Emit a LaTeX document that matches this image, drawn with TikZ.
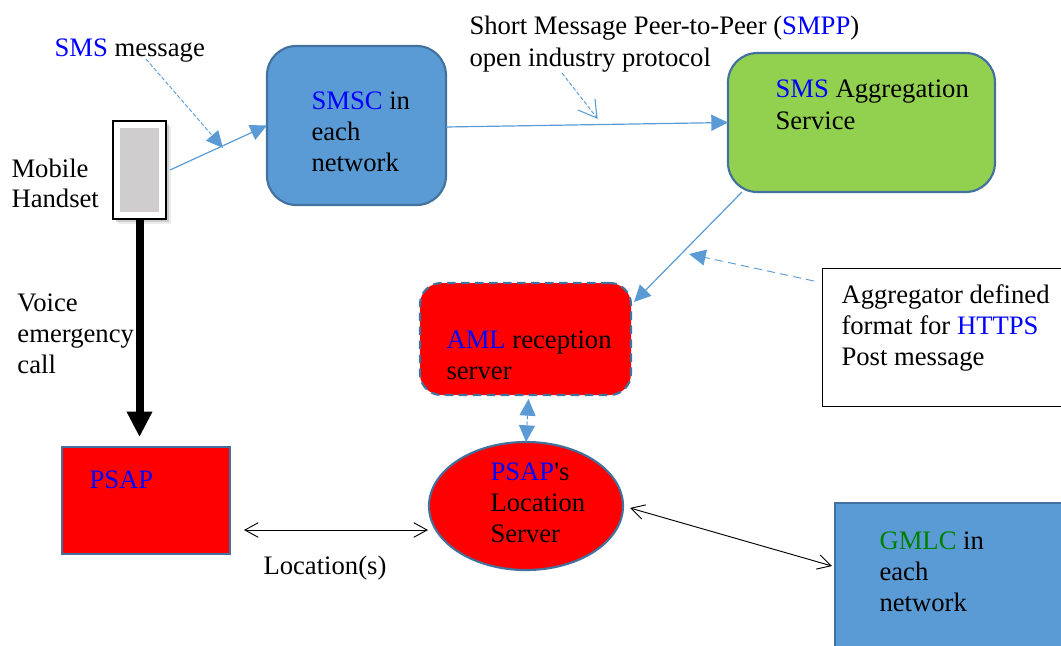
\documentclass[tikz,border=0pt]{standalone}
\usepackage{fontspec}
\setmainfont{Liberation Serif}
\usetikzlibrary{arrows.meta,shadows,calc,shapes.geometric}
\definecolor{boxblue}{HTML}{5B9BD5}
\definecolor{edgeblue}{HTML}{41719C}
\definecolor{boxgreen}{HTML}{92D050}
\definecolor{handgray}{HTML}{CFCDCD}
\definecolor{gmlcgreen}{HTML}{008000}
\newcommand{\bl}[1]{\textcolor{blue}{#1}}
\tikzset{
  px/.style={x=0.75pt,y=-0.75pt},
  label text/.style={font=\fontsize{20}{23.25}\selectfont,align=left,inner sep=0pt,outer sep=0pt,anchor=base west,text=black},
  sized/.style 2 args={minimum width=#1*0.75pt,minimum height=#2*0.75pt,inner sep=0pt,outer sep=0pt},
  blue box/.style={draw=edgeblue,line width=1.6pt,fill=boxblue},
  red fill/.style={draw=edgeblue,line width=1.6pt,fill=red},
  flow/.style={draw=boxblue,line width=0.9pt,-{Triangle[length=12.5pt,width=12pt,fill=boxblue]}},
  note flow/.style={draw=boxblue,line width=0.7pt,dashed,dash pattern=on 3pt off 1.5pt,-{Triangle[length=12.5pt,width=12pt,fill=boxblue]}},
  thin both/.style={draw=black,line width=0.7pt,{Straight Barb[length=10pt,width=11pt]}-{Straight Barb[length=10pt,width=11pt]}},
}
\begin{document}
\begin{tikzpicture}[px]
\useasboundingbox (0,0) rectangle (1061,646);
\clip (0,0) rectangle (1061,646);
% boxes
\node[sized={179}{159},blue box,rounded corners=22pt] (smsc) at (356.5,125.5) {};
\node[sized={267}{139},draw=edgeblue,line width=1.6pt,fill=boxgreen,rounded corners=22pt] (agg) at (861.5,122.5) {};
\node[sized={211}{112},red fill,dashed,dash pattern=on 6.5pt off 4pt,rounded corners=16pt] (aml) at (525.5,339) {};
\node[sized={168}{107},red fill] (psap) at (146,500.5) {};
\node[sized={194}{128},red fill,shape=ellipse] (loc) at (526,506) {};
\node[sized={240}{157},blue box] (gmlc) at (955,581.5) {};
\node[sized={260}{138},draw=black,line width=0.7pt,fill=white] (note) at (952,337) {};
% handset
\node[sized={53}{98},draw=black,line width=2pt,fill=white,drop shadow={opacity=0.15,shadow xshift=3.5pt,shadow yshift=-4pt},drop shadow={opacity=0.3,shadow xshift=2pt,shadow yshift=-2pt}] (hand) at (139.5,170) {};
\node[sized={39}{84},fill=handgray] (screen) at (139.5,170) {};
% connectors
\draw[draw=black,line width=6pt,-{Triangle[length=19pt,width=18pt,fill=black]}] (hand.south) -- ([shift={(-6.5,-10)}]psap.north);
\draw[flow] ([shift={(4,0)}]hand.east) -- (smsc.west);
\draw[flow] ([shift={(0,1.5)}]smsc.east) -- (agg.west);
\draw[flow] ([shift={(14,0)}]agg.south west) -- ([shift={(3,19)}]aml.north east);
\draw[note flow,{Triangle[length=12.5pt,width=12pt,fill=boxblue]}-{Triangle[length=12.5pt,width=12pt,fill=boxblue]}] ([shift={(3,4)}]aml.south) -- (loc.north);
\coordinate (c1) at (146,59);
\coordinate (c2) at (223,148);
\coordinate (c3) at (562,73);
\coordinate (c4) at (597,118);
\coordinate (c5) at (689,254);
\draw[note flow] (c1) -- (c2);
\draw[draw=boxblue,line width=0.7pt,dashed,dash pattern=on 3pt off 1.5pt] (c3) -- (c4);
\draw[draw=boxblue,line width=0.8pt] ($(c4)+(-19,-8)$) -- (c4) -- ($(c4)+(-2,-19)$);
\draw[note flow,dash pattern=on 6pt off 4pt] ([shift={(-8,13)}]note.north west) -- (c5);
\draw[thin both] ([shift={(14,29.5)}]psap.east) -- ([shift={(-1,24)}]loc.west);
\draw[thin both] ([shift={(7,2)}]loc.east) -- ([shift={(-3,63)}]gmlc.north west);
% texts
\node[label text] (t1) at (54.5,56) {\bl{SMS} message};
\node[label text] (t2) at (11.5,177) {Mobile};
\node[label text] (t2b) at (11.5,207) {Handset};
\node[label text] (t3) at (17.5,311) {Voice};
\node[label text] (t3b) at (17.5,342) {emergency};
\node[label text] (t3c) at (17.5,373) {call};
\node[label text] (t4) at (311.5,109) {\bl{SMSC} in};
\node[label text] (t4b) at (311.5,140) {each};
\node[label text] (t4c) at (311.5,171) {network};
\node[label text] (t5) at (469.5,35) {Short Message Peer-to-Peer (\bl{SMPP})};
\node[label text] (t5b) at (469.5,66) {open industry protocol};
\node[label text] (t6) at (775.5,97) {\bl{SMS} Aggregation};
\node[label text] (t6b) at (775.5,129) {Service};
\node[label text] (t7) at (446.5,348) {\bl{AML} reception};
\node[label text] (t7b) at (446.5,379) {server};
\node[label text] (t8) at (89.5,488) {\bl{PSAP}};
\node[label text] (t9) at (490.5,480) {\bl{PSAP}\textquotesingle s};
\node[label text] (t9b) at (490.5,511) {Location};
\node[label text] (t9c) at (490.5,542) {Server};
\node[label text] (t10) at (263.5,574) {Location(s)};
\node[label text] (t11) at (879.5,549) {\textcolor{gmlcgreen}{GMLC} in};
\node[label text] (t11b) at (879.5,580) {each};
\node[label text] (t11c) at (879.5,611) {network};
\node[label text] (t12) at (841.5,303) {Aggregator defined};
\node[label text] (t12b) at (841.5,334) {format for \bl{HTTPS}};
\node[label text] (t12c) at (841.5,365) {Post message};
\end{tikzpicture}
\end{document}
